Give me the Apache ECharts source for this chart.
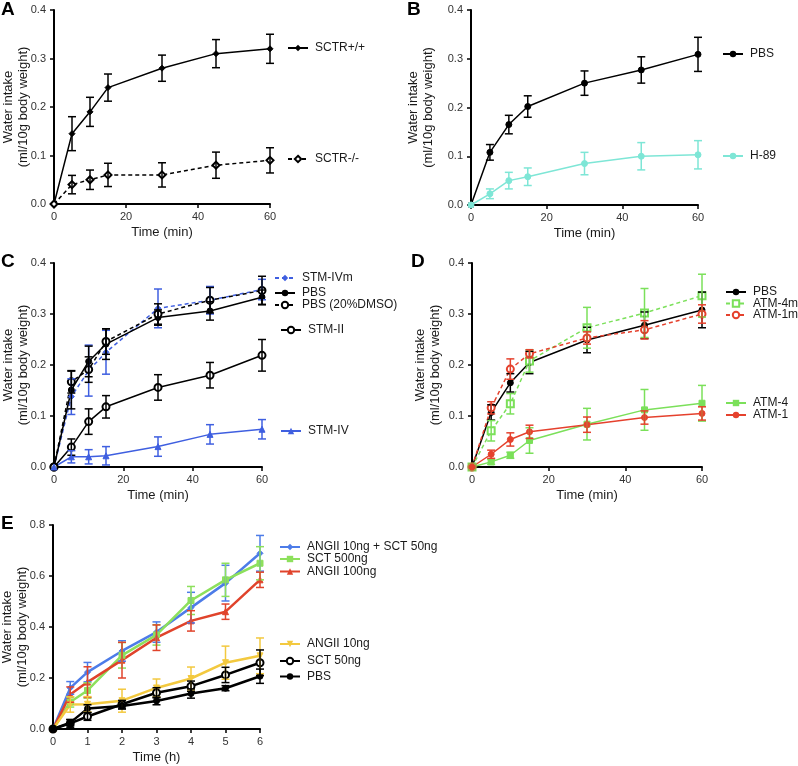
<!DOCTYPE html>
<html><head><meta charset="utf-8">
<script src="https://cdn.jsdelivr.net/npm/echarts@6/dist/echarts.min.js"></script>
<style>html,body{margin:0;padding:0;background:#fff}#c{width:798px;height:766px}</style>
</head><body><div id="c"></div>
<script>
// ---------- data ----------
const timeMin = [0, 5, 10, 15, 30, 45, 60];
const timeHour = [0, 0.5, 1, 2, 3, 4, 5, 6];

// Panel A
const aSctrWT = [0, 0.145, 0.19, 0.24, 0.28, 0.31, 0.32];
const aSctrWTErr = [0, 0.035, 0.03, 0.028, 0.027, 0.029, 0.03];
const aSctrKO = [0, 0.04, 0.05, 0.06, 0.06, 0.08, 0.09];
const aSctrKOErr = [0, 0.019, 0.02, 0.024, 0.025, 0.027, 0.026];

// Panel B
const bPBS = [0, 0.108, 0.165, 0.202, 0.25, 0.277, 0.309];
const bPBSErr = [0, 0.016, 0.019, 0.022, 0.025, 0.027, 0.035];
const bH89 = [0, 0.023, 0.05, 0.058, 0.085, 0.1, 0.103];
const bH89Err = [0, 0.01, 0.017, 0.018, 0.023, 0.028, 0.029];

// Panel C
const cSTMIVm = [0, 0.138, 0.189, 0.225, 0.311, 0.327, 0.348];
const cSTMIVmErr = [0, 0.035, 0.05, 0.043, 0.038, 0.027, 0.02];
const cPBS = [0, 0.151, 0.207, 0.241, 0.293, 0.306, 0.333];
const cPBSErr = [0, 0.037, 0.03, 0.03, 0.015, 0.018, 0.014];
const cPBSDMSO = [0, 0.167, 0.191, 0.246, 0.3, 0.327, 0.346];
const cPBSDMSOErr = [0, 0.022, 0.025, 0.025, 0.02, 0.025, 0.028];
const cSTMII = [0, 0.039, 0.089, 0.118, 0.156, 0.18, 0.219];
const cSTMIIErr = [0, 0.016, 0.025, 0.022, 0.025, 0.025, 0.031];
const cSTMIV = [0, 0.02, 0.02, 0.022, 0.04, 0.064, 0.074];
const cSTMIVErr = [0, 0.012, 0.014, 0.018, 0.019, 0.019, 0.019];

// Panel D
const dPBS = [0, 0.107, 0.165, 0.205, 0.249, 0.278, 0.308];
const dPBSErr = [0, 0.015, 0.018, 0.022, 0.025, 0.026, 0.035];
const dATM4m = [0, 0.071, 0.124, 0.208, 0.273, 0.302, 0.336];
const dATM4mErr = [0, 0.02, 0.02, 0.022, 0.04, 0.048, 0.042];
const dATM1m = [0, 0.116, 0.192, 0.222, 0.253, 0.269, 0.3];
const dATM1mErr = [0, 0.012, 0.02, 0.008, 0.012, 0.018, 0.018];
const dATM4 = [0, 0.01, 0.023, 0.052, 0.084, 0.112, 0.125];
const dATM4Err = [0, 0.005, 0.006, 0.025, 0.031, 0.04, 0.035];
const dATM1 = [0, 0.025, 0.054, 0.069, 0.083, 0.097, 0.105];
const dATM1Err = [0, 0.008, 0.013, 0.013, 0.015, 0.013, 0.013];

// Panel E
const eAngSct = [0, 0.161, 0.223, 0.306, 0.38, 0.476, 0.572, 0.689];
const eAngSctErr = [0, 0.025, 0.038, 0.04, 0.04, 0.06, 0.07, 0.07];
const eSct500 = [0, 0.106, 0.151, 0.289, 0.369, 0.504, 0.585, 0.65];
const eSct500Err = [0, 0.02, 0.03, 0.05, 0.04, 0.055, 0.065, 0.065];
const eAng100 = [0, 0.135, 0.184, 0.27, 0.358, 0.424, 0.46, 0.585];
const eAng100Err = [0, 0.03, 0.06, 0.07, 0.05, 0.04, 0.03, 0.03];
const eAng10 = [0, 0.096, 0.097, 0.111, 0.161, 0.198, 0.26, 0.287];
const eAng10Err = [0, 0.03, 0.03, 0.045, 0.035, 0.045, 0.065, 0.07];
const eSct50 = [0, 0.022, 0.049, 0.097, 0.142, 0.168, 0.212, 0.26];
const eSct50Err = [0, 0.015, 0.015, 0.015, 0.02, 0.02, 0.03, 0.05];
const ePBS = [0, 0.025, 0.08, 0.09, 0.11, 0.139, 0.16, 0.207];
const ePBSErr = [0, 0.012, 0.015, 0.012, 0.015, 0.018, 0.01, 0.028];

// ---------- chart ----------
const FONT = 'Liberation Sans, Arial, sans-serif';
const chart = echarts.init(document.getElementById('c'), null, {renderer: 'canvas'});

const grids = [
  {left: 54, top: 10, width: 216, height: 194},
  {left: 471, top: 10, width: 227, height: 195},
  {left: 54, top: 263, width: 208, height: 204},
  {left: 472, top: 263, width: 230, height: 204},
  {left: 53, top: 525, width: 207, height: 204}
].map(g => Object.assign(g, {containLabel: false, outerBoundsMode: 'none'}));

function xAx(i, max, interval, name) {
  return {
    gridIndex: i, type: 'value', min: 0, max: max, interval: interval,
    name: name, nameLocation: 'middle', nameGap: 22, nameMoveOverlap: false,
    nameTextStyle: {fontFamily: FONT, fontSize: 13, color: '#1a1a1a'},
    axisLine: {show: true, onZero: false, lineStyle: {color: '#000', width: 2}},
    axisTick: {show: true, length: 4, lineStyle: {color: '#000', width: 1.5}},
    axisLabel: {fontFamily: FONT, fontSize: 11, color: '#333', margin: 7},
    splitLine: {show: false}
  };
}
function yAx(i, max, interval, gap) {
  return {
    gridIndex: i, type: 'value', min: 0, max: max, interval: interval,
    name: 'Water intake\n(ml/10g body weight)', nameLocation: 'middle', nameGap: gap,
    nameMoveOverlap: false,
    nameTextStyle: {fontFamily: FONT, fontSize: 13, color: '#1a1a1a', lineHeight: 15},
    axisLine: {show: true, lineStyle: {color: '#000', width: 2}},
    axisTick: {show: true, length: 4, lineStyle: {color: '#000', width: 1.5}},
    axisLabel: {fontFamily: FONT, fontSize: 11, color: '#333', margin: 8,
      formatter: v => v.toFixed(1)},
    splitLine: {show: false}
  };
}

const series = [];
const legends = [];

function addLine(g, name, xs, ys, errs, color, opt) {
  const lw = opt.lw || 1.5;
  series.push({
    type: 'line', name: name, xAxisIndex: g, yAxisIndex: g,
    data: xs.map((x, k) => [x, ys[k]]),
    symbol: opt.symbol || 'circle', symbolSize: opt.size || 6,
    symbolRotate: opt.rot || 0,
    lineStyle: {color: color, width: lw, type: opt.dash ? [4, 3] : 'solid'},
    itemStyle: {color: color, borderColor: color},
    clip: false, z: 3, animation: false
  });
  series.push({
    type: 'custom', name: name + '_err', xAxisIndex: g, yAxisIndex: g,
    data: xs.map((x, k) => [x, ys[k] - errs[k], ys[k] + errs[k]]).filter((d, k) => errs[k] > 0),
    encode: {x: 0, y: [1, 2]}, clip: false, z: 4, animation: false,
    renderItem: function (params, api) {
      const x = api.value(0);
      const p1 = api.coord([x, api.value(1)]);
      const p2 = api.coord([x, api.value(2)]);
      const w = 4;
      const st = {stroke: color, lineWidth: opt.elw || 1.5};
      return {type: 'group', children: [
        {type: 'line', shape: {x1: p1[0], y1: p1[1], x2: p2[0], y2: p2[1]}, style: st},
        {type: 'line', shape: {x1: p1[0] - w, y1: p1[1], x2: p1[0] + w, y2: p1[1]}, style: st},
        {type: 'line', shape: {x1: p2[0] - w, y1: p2[1], x2: p2[0] + w, y2: p2[1]}, style: st}
      ]};
    }
  });
}
function addLegend(name, left, cy) {
  legends.push({
    data: [name], left: left, top: cy - 7, orient: 'vertical',
    itemWidth: 20, itemHeight: 8, itemGap: 0, padding: 0,
    selectedMode: false,
    formatter: n => n.split('|')[1],
    textStyle: {fontFamily: FONT, fontSize: 12, color: '#1a1a1a', padding: [0, 0, 0, 2]}
  });
}

// A
addLine(0, 'A|SCTR+/+', timeMin, aSctrWT, aSctrWTErr, '#000', {symbol: 'diamond', size: 6});
addLine(0, 'A|SCTR-/-', timeMin, aSctrKO, aSctrKOErr, '#000', {symbol: 'emptyDiamond', size: 7, dash: true});
addLegend('A|SCTR+/+', 287, 49);
addLegend('A|SCTR-/-', 287, 160);
// B
addLine(1, 'B|PBS', timeMin, bPBS, bPBSErr, '#000', {symbol: 'circle', size: 6});
addLine(1, 'B|H-89', timeMin, bH89, bH89Err, '#7ee6d6', {symbol: 'circle', size: 6});
addLegend('B|PBS', 722, 55);
addLegend('B|H-89', 722, 157);
// C
const blueC = '#3f5fe0';
addLine(2, 'C|STM-IVm', timeMin, cSTMIVm, cSTMIVmErr, blueC, {symbol: 'diamond', size: 6, dash: true});
addLine(2, 'C|PBS', timeMin, cPBS, cPBSErr, '#000', {symbol: 'circle', size: 6});
addLine(2, 'C|PBS (20%DMSO)', timeMin, cPBSDMSO, cPBSDMSOErr, '#000', {symbol: 'emptyCircle', size: 7, dash: true});
addLine(2, 'C|STM-II', timeMin, cSTMII, cSTMIIErr, '#000', {symbol: 'emptyCircle', size: 7});
addLine(2, 'C|STM-IV', timeMin, cSTMIV, cSTMIVErr, blueC, {symbol: 'triangle', size: 6});
addLegend('C|STM-IVm', 274, 279);
addLegend('C|PBS', 274, 294);
addLegend('C|PBS (20%DMSO)', 274, 306);
addLegend('C|STM-II', 280, 331);
addLegend('C|STM-IV', 280, 432);
// D
const greenD = '#7be05a', redD = '#e5412d';
addLine(3, 'D|PBS', timeMin, dPBS, dPBSErr, '#000', {symbol: 'circle', size: 6});
addLine(3, 'D|ATM-4m', timeMin, dATM4m, dATM4mErr, greenD, {symbol: 'emptyRect', size: 7, dash: true});
addLine(3, 'D|ATM-1m', timeMin, dATM1m, dATM1mErr, redD, {symbol: 'emptyCircle', size: 7, dash: true});
addLine(3, 'D|ATM-4', timeMin, dATM4, dATM4Err, greenD, {symbol: 'rect', size: 6});
addLine(3, 'D|ATM-1', timeMin, dATM1, dATM1Err, redD, {symbol: 'circle', size: 6});
addLegend('D|PBS', 725, 293);
addLegend('D|ATM-4m', 725, 304.5);
addLegend('D|ATM-1m', 725, 316);
addLegend('D|ATM-4', 725, 404);
addLegend('D|ATM-1', 725, 416);
// E
const o = {lw: 2.5, elw: 1.5};
addLine(4, 'E|ANGII 10ng + SCT 50ng', timeHour, eAngSct, eAngSctErr, '#4d7ce8', {...o, symbol: 'diamond', size: 6});
addLine(4, 'E|SCT 500ng', timeHour, eSct500, eSct500Err, '#8de05c', {...o, symbol: 'rect', size: 6});
addLine(4, 'E|ANGII 100ng', timeHour, eAng100, eAng100Err, '#e0432b', {...o, symbol: 'triangle', size: 6});
addLine(4, 'E|ANGII 10ng', timeHour, eAng10, eAng10Err, '#f3c93f', {...o, symbol: 'triangle', size: 6, rot: 180});
addLine(4, 'E|SCT 50ng', timeHour, eSct50, eSct50Err, '#000', {...o, symbol: 'emptyCircle', size: 7});
addLine(4, 'E|PBS', timeHour, ePBS, ePBSErr, '#000', {...o, symbol: 'circle', size: 6});
addLegend('E|ANGII 10ng + SCT 50ng', 279, 548);
addLegend('E|SCT 500ng', 279, 560);
addLegend('E|ANGII 100ng', 279, 572.5);
addLegend('E|ANGII 10ng', 279, 645);
addLegend('E|SCT 50ng', 279, 662);
addLegend('E|PBS', 279, 677.5);

const labels = [['A', 1, 0], ['B', 407, 0], ['C', 1, 252], ['D', 411, 252], ['E', 1, 514]];

chart.setOption({
  animation: false,
  textStyle: {fontFamily: FONT},
  grid: grids,
  xAxis: [xAx(0, 60, 20, 'Time (min)'), xAx(1, 60, 20, 'Time (min)'), xAx(2, 60, 20, 'Time (min)'),
          xAx(3, 60, 20, 'Time (min)'), xAx(4, 6, 1, 'Time (h)')],
  yAxis: [yAx(0, 0.4, 0.1, 23), yAx(1, 0.4, 0.1, 35), yAx(2, 0.4, 0.1, 23), yAx(3, 0.4, 0.1, 29),
          yAx(4, 0.8, 0.2, 23)],
  legend: legends,
  series: series,
  graphic: labels.map(l => ({type: 'text', left: l[1], top: l[2],
    style: {text: l[0], font: 'bold 19px ' + FONT, fill: '#000'}}))
});
</script></body></html>
